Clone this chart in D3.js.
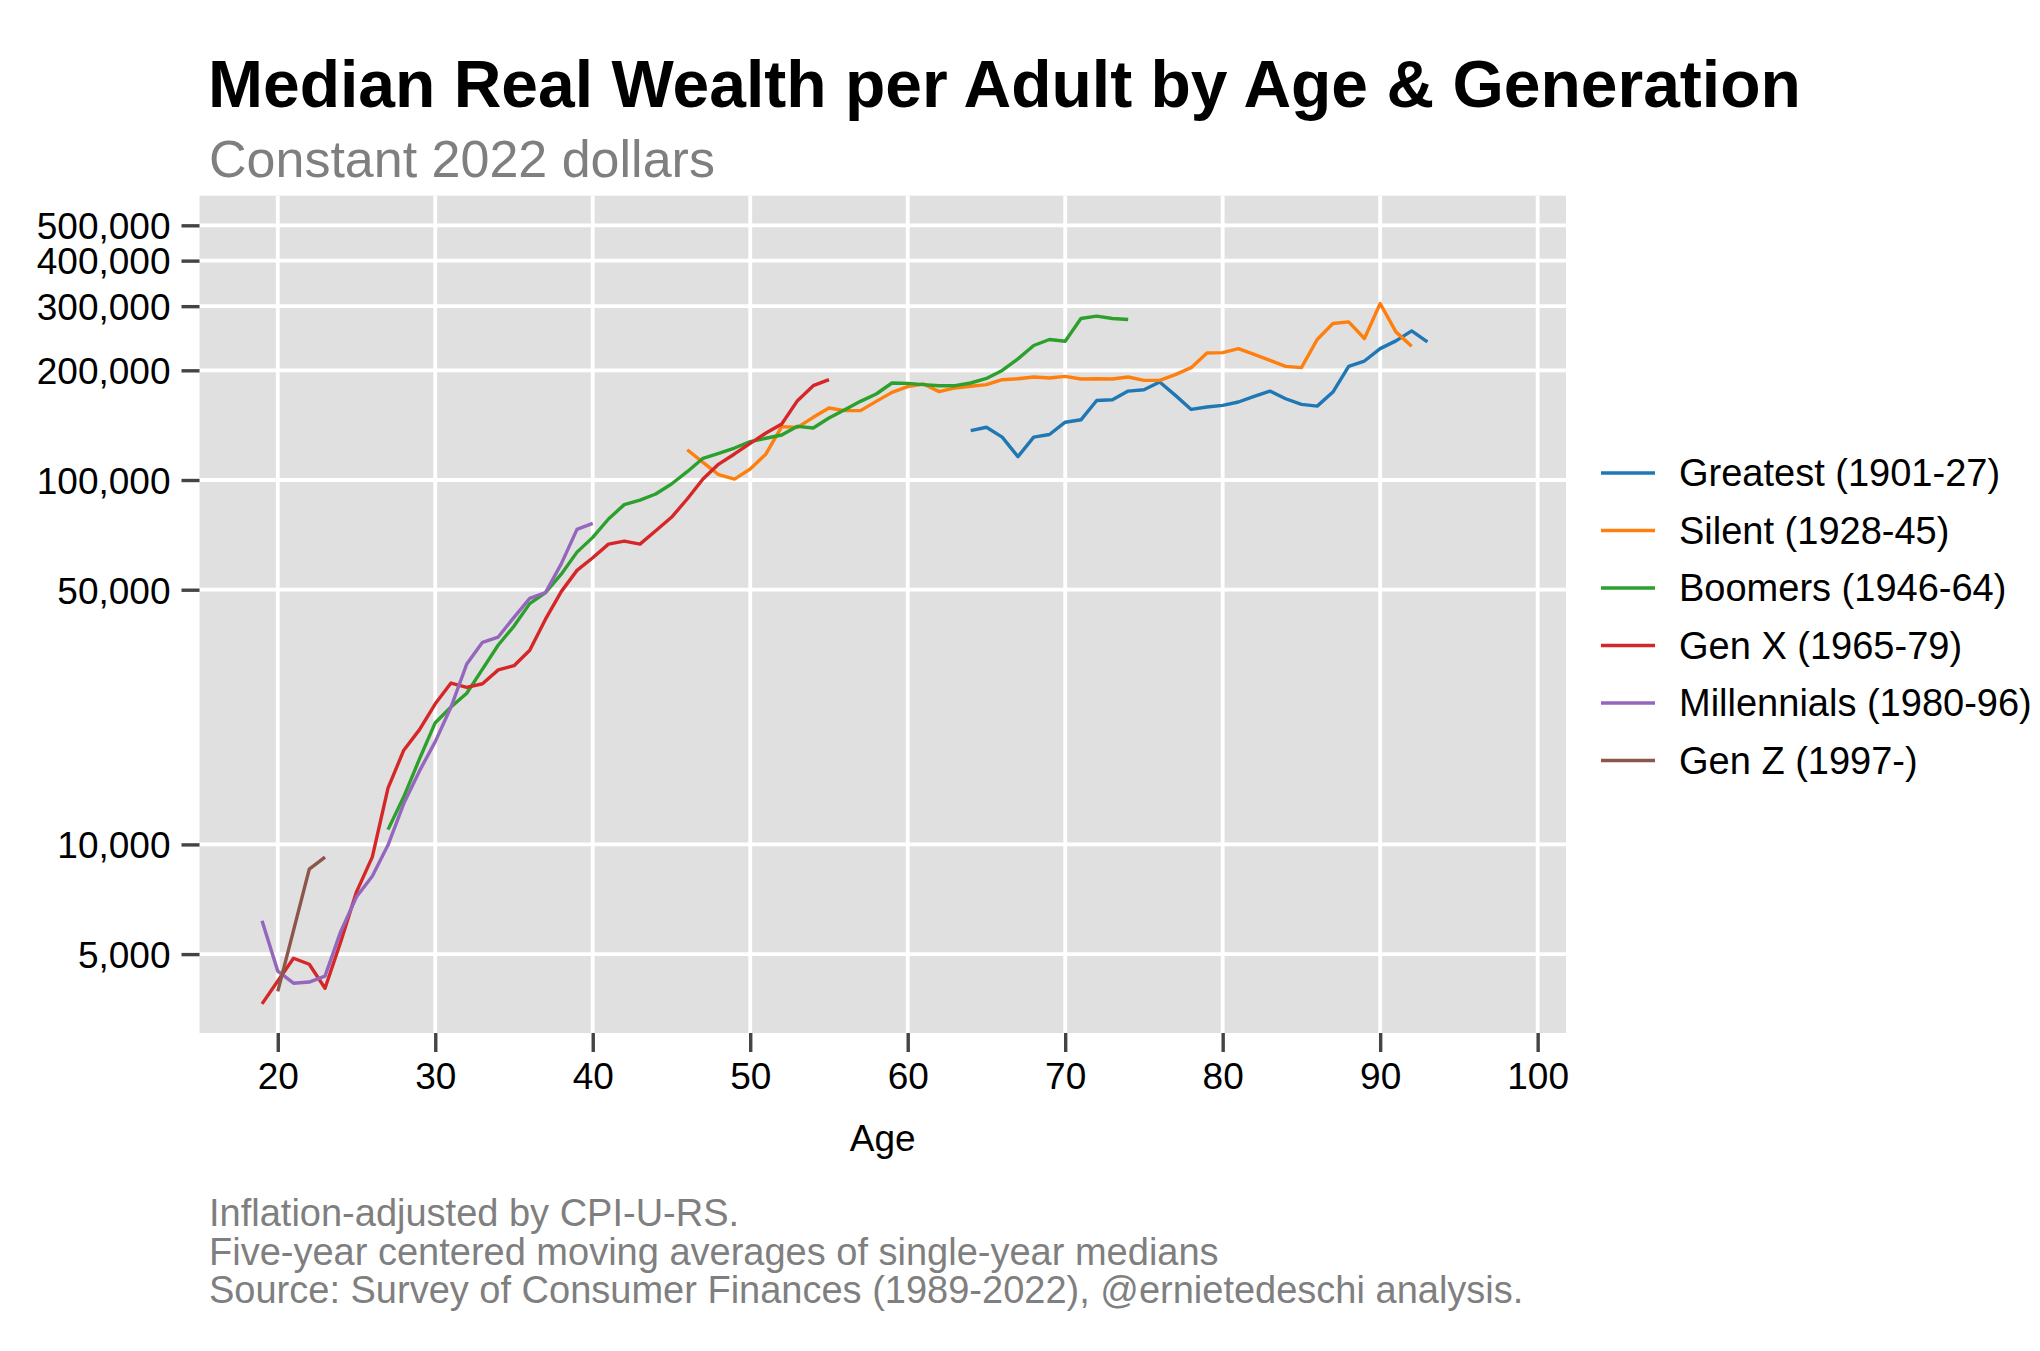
<!DOCTYPE html>
<html>
<head>
<meta charset="utf-8">
<script src="https://cdn.jsdelivr.net/npm/d3@7"></script>
<style>
  body { margin: 0; background: #fff; }
  text { font-family: "Liberation Sans", Arial, sans-serif; }
</style>
</head>
<body>
<div id="chart"></div>
<script>
// Median real wealth per adult (constant 2022 $), by age; each series starts at its first age
const generations = ['Greatest (1901-27)', 'Silent (1928-45)', 'Boomers (1946-64)',
  'Gen X (1965-79)', 'Millennials (1980-96)', 'Gen Z (1997-)'];
const colors = ['#1f77b4', '#ff7f0e', '#2ca02c', '#d62728', '#9467bd', '#8c564b'];
const startAges = [64, 46, 27, 19, 19, 20];

const greatest = [136700, 139600, 131100, 115900, 131100, 133300, 144100, 146300, 165300, 166100,
  175400, 176900, 185700, 170700, 156200, 158600, 160300, 163700, 169600, 175400,
  167100, 161300, 159500, 174300, 205100, 212100, 229400, 240900, 256600, 239300];
const silent = [121100, 111800, 103400, 100600, 107200, 117900, 140100, 139500, 148600, 157600,
  155000, 155000, 164400, 174000, 180400, 183400, 174800, 178900, 180800, 182700,
  188500, 189700, 191700, 190500, 192500, 189300, 189700, 189300, 191700, 187700,
  187700, 194600, 203400, 223200, 223700, 229400, 221300, 213000, 205100, 203400,
  243000, 268800, 271600, 244500, 305100, 255000, 232800];
const boomers = [10980, 13510, 17170, 21580, 23820, 25990, 30270, 35250, 39730, 45790,
  49110, 55140, 63400, 69600, 78160, 85600, 88100, 91530, 97500, 105400,
  114700, 118400, 122400, 127400, 130200, 132900, 140400, 138900, 148000, 156000,
  164400, 172200, 184600, 184200, 182700, 181500, 181500, 184600, 190000, 199800,
  215000, 234000, 243000, 240400, 277500, 281600, 277500, 275700];
const genX = [3650, 4220, 4870, 4690, 4030, 5410, 7410, 9230, 14270, 18140,
  20650, 24320, 27720, 26960, 27600, 30130, 30940, 34120, 41500, 49400,
  56500, 61200, 66700, 68000, 66700, 72600, 79000, 88700, 100600, 110600,
  117900, 126100, 134600, 142500, 165100, 181500, 188600];
const millennials = [6170, 4490, 4160, 4190, 4350, 5770, 7180, 8180, 9960, 12940,
  15910, 19150, 23820, 31260, 35870, 37080, 41990, 47320, 49110, 58860,
  73220, 76010];
const genZ = [3950, 5810, 8550, 9230];

const seriesValues = [greatest, silent, boomers, genX, millennials, genZ];

const xTicks = [20, 30, 40, 50, 60, 70, 80, 90, 100];
const yTicks = [5000, 10000, 50000, 100000, 200000, 300000, 400000, 500000];

const W = 2040, H = 1351;
const panel = { left: 199.5, right: 1566, top: 195.7, bottom: 1033 };

const svg = d3.select('#chart').append('svg')
  .attr('width', W)
  .attr('height', H)
  .attr('viewBox', [0, 0, W, H]);

svg.append('rect').attr('width', W).attr('height', H).attr('fill', '#fff');

const x = d3.scaleLinear().domain([15.03, 101.8]).range([panel.left, panel.right]);
const y = d3.scaleLog().domain([3037, 602900]).range([panel.bottom, panel.top]);

// panel + grid
svg.append('rect')
  .attr('x', panel.left).attr('y', panel.top)
  .attr('width', panel.right - panel.left).attr('height', panel.bottom - panel.top)
  .attr('fill', '#e0e0e0');

const grid = svg.append('g').attr('stroke', '#fff').attr('stroke-width', 3.8);
grid.selectAll('.gy').data(yTicks).join('line')
  .attr('x1', panel.left).attr('x2', panel.right)
  .attr('y1', d => y(d)).attr('y2', d => y(d));
grid.selectAll('.gx').data(xTicks).join('line')
  .attr('y1', panel.top).attr('y2', panel.bottom)
  .attr('x1', d => x(d)).attr('x2', d => x(d));

// axes
const fmt = d3.format(',');
const yAxis = svg.append('g')
  .attr('transform', `translate(${panel.left},0)`)
  .call(d3.axisLeft(y).tickValues(yTicks).tickFormat(fmt).tickSize(18).tickPadding(11));
const xAxis = svg.append('g')
  .attr('transform', `translate(0,${panel.bottom})`)
  .call(d3.axisBottom(x).tickValues(xTicks).tickSize(19).tickPadding(10));

[yAxis, xAxis].forEach(ax => {
  ax.select('.domain').remove();
  ax.selectAll('.tick line').attr('stroke', '#444').attr('stroke-width', 3.4);
  ax.selectAll('.tick text')
    .attr('fill', '#000')
    .style('font-size', '37px');
});
yAxis.selectAll('.tick text').attr('dy', '0.36em');
xAxis.selectAll('.tick text').attr('dy', '0.72em');

// lines
const line = d3.line()
  .x(d => x(d[0]))
  .y(d => y(d[1]));

const series = seriesValues.map((vals, i) => vals.map((v, j) => [startAges[i] + j, v]));

svg.append('g')
  .selectAll('path')
  .data(series)
  .join('path')
  .attr('d', line)
  .attr('fill', 'none')
  .attr('stroke', (d, i) => colors[i])
  .attr('stroke-width', 3.4)
  .attr('stroke-linejoin', 'round');

// titles
svg.append('text')
  .attr('x', 208).attr('y', 107)
  .style('font-size', '66px').style('font-weight', 'bold')
  .attr('fill', '#000')
  .text('Median Real Wealth per Adult by Age & Generation');

svg.append('text')
  .attr('x', 209).attr('y', 177)
  .style('font-size', '52px')
  .attr('fill', '#7f7f7f')
  .text('Constant 2022 dollars');

svg.append('text')
  .attr('x', (panel.left + panel.right) / 2).attr('y', 1151)
  .attr('text-anchor', 'middle')
  .style('font-size', '37px')
  .attr('fill', '#000')
  .text('Age');

// legend
const legend = svg.append('g')
  .selectAll('g')
  .data(generations)
  .join('g')
  .attr('transform', (d, i) => `translate(1601,${473 + i * 57.5})`);

legend.append('line')
  .attr('x1', 0).attr('x2', 54)
  .attr('stroke', (d, i) => colors[i])
  .attr('stroke-width', 3.6);

legend.append('text')
  .attr('x', 78).attr('dy', '0.35em')
  .style('font-size', '38px')
  .attr('fill', '#000')
  .text(d => d);

// caption
const caption = ['Inflation-adjusted by CPI-U-RS.',
  'Five-year centered moving averages of single-year medians',
  'Source: Survey of Consumer Finances (1989-2022), @ernietedeschi analysis.'];

svg.append('g')
  .selectAll('text')
  .data(caption)
  .join('text')
  .attr('x', 209)
  .attr('y', (d, i) => 1226 + i * 38.5)
  .style('font-size', '38px')
  .attr('fill', '#7f7f7f')
  .text(d => d);
</script>
</body>
</html>
